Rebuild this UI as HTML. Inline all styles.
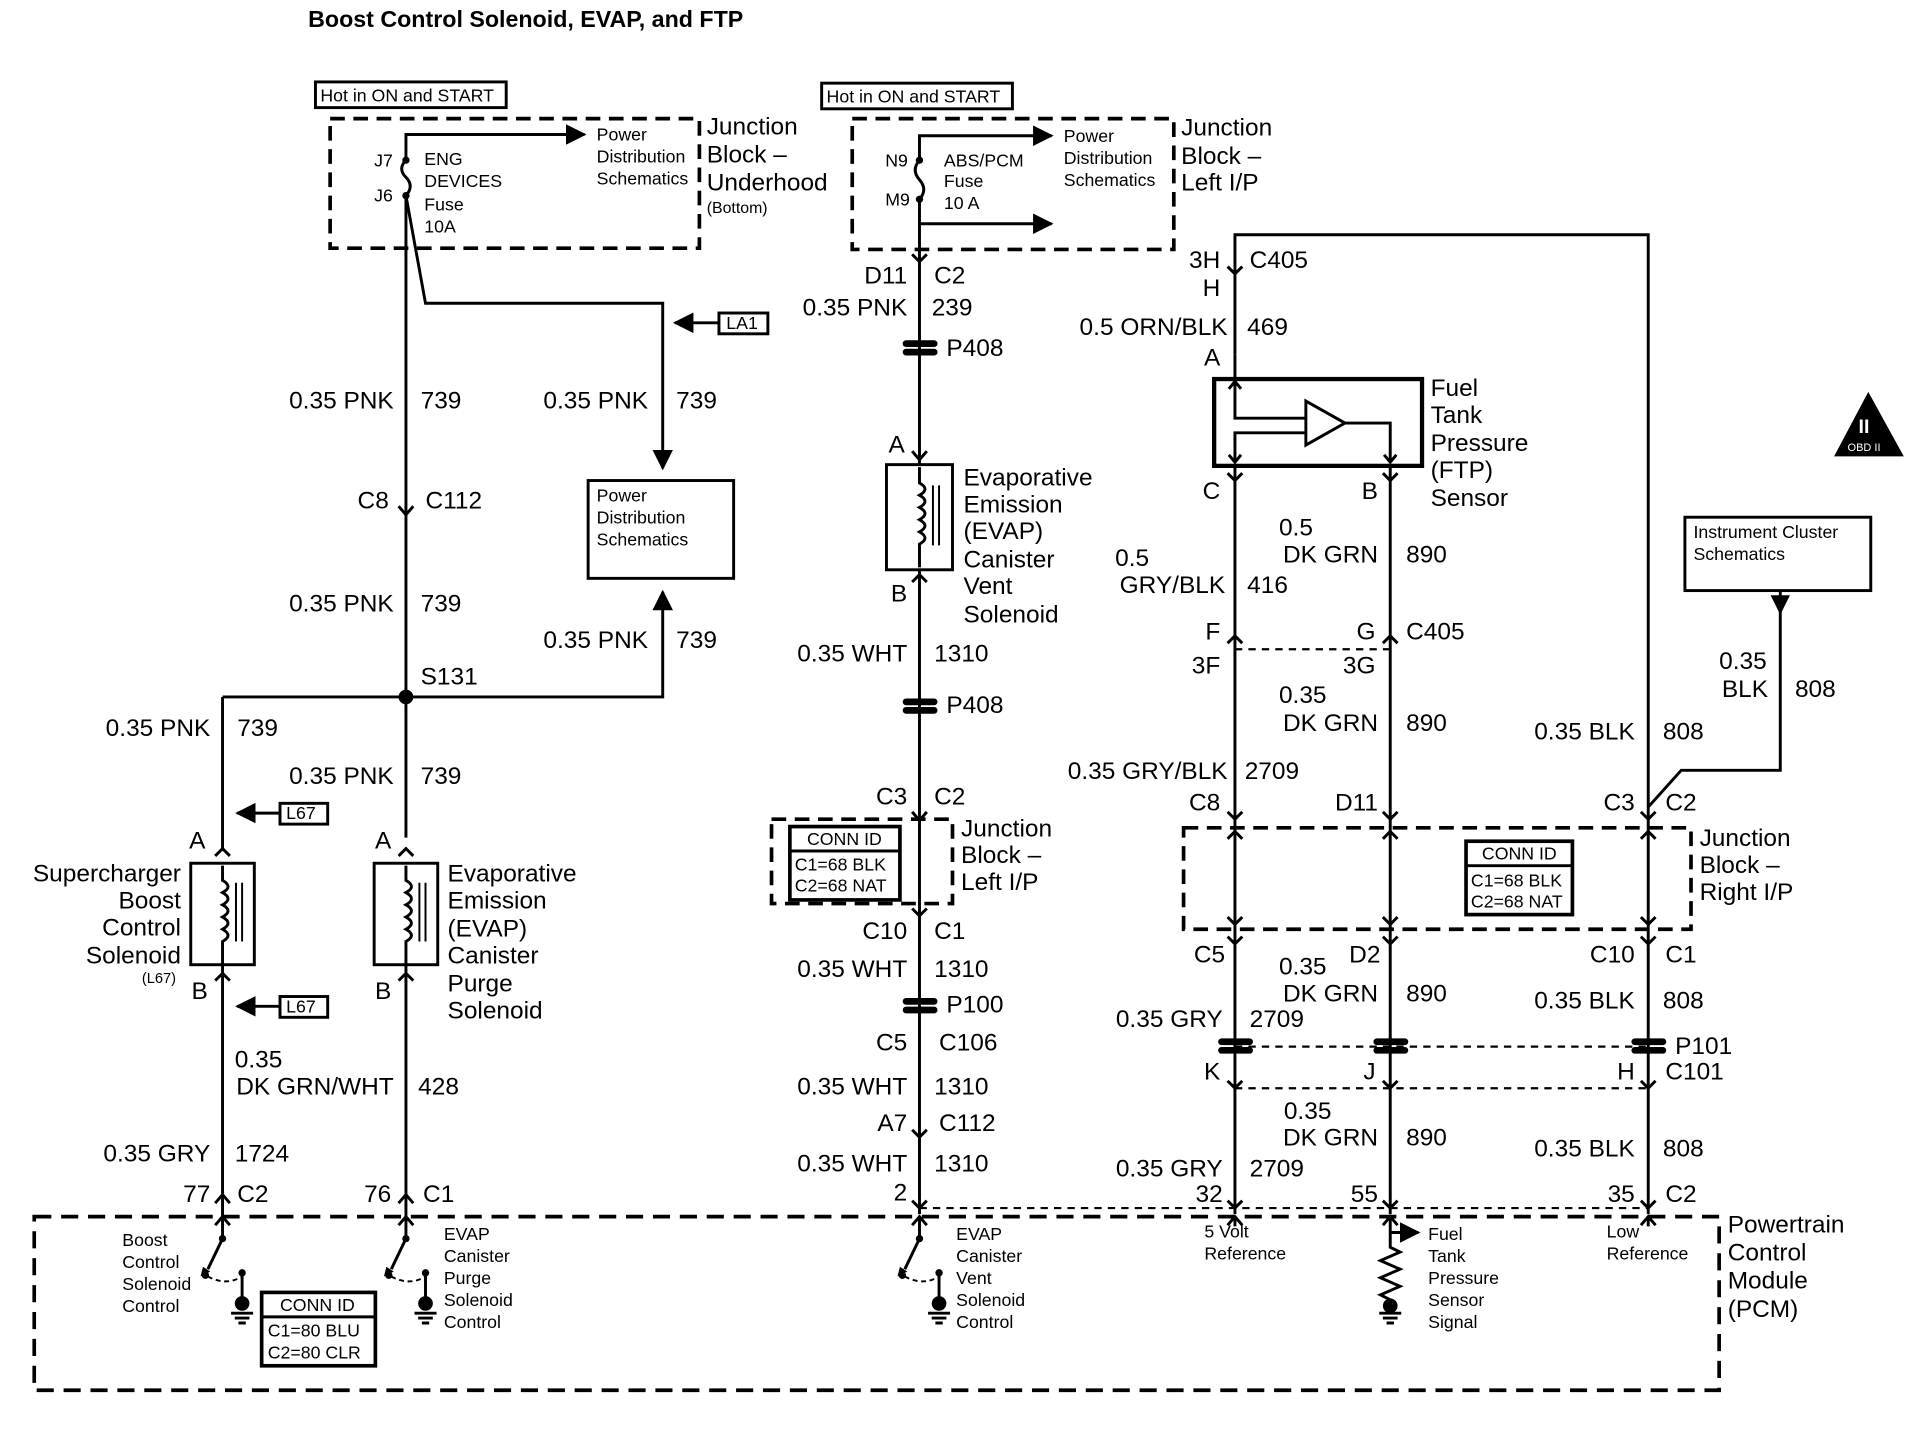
<!DOCTYPE html>
<html><head><meta charset="utf-8"><style>
html,body{margin:0;padding:0;background:#fff}
svg{display:block}
text{font-family:"Liberation Sans",sans-serif;fill:#000}
.w{font-size:20px}
.s{font-size:14.5px}
.m{font-size:20px}
</style></head><body>
<svg width="1916" height="1440" viewBox="0 0 1567 1177.7" preserveAspectRatio="none" xmlns="http://www.w3.org/2000/svg">
<defs>
<marker id="ah" viewBox="0 0 10 10" refX="9" refY="5" markerWidth="7" markerHeight="7" orient="auto"><path d="M0 0 L10 5 L0 10 z" fill="#000"/></marker>
</defs>
<g stroke="#000" stroke-width="2.4" fill="none">
<rect x="258" y="67" width="156" height="21"/>
<rect x="270" y="97" width="302" height="106" stroke-dasharray="12,7" stroke-width="3"/>
<path d="M332 131 V110 H478" marker-end="url(#ah)"/>
<path d="M332 131 q-7 7 0 14 q7 7 0 15"/>
<path d="M332 160 L348 248 H542 V383" marker-end="url(#ah)"/>
<path d="M588 264 H552" marker-end="url(#ah)"/>
<rect x="588" y="256" width="40" height="17"/>
<path d="M332 160 V570 M332 570 V685"/>
<path d="M326 414 L332 421 L338 414"/>
<rect x="481" y="393" width="119" height="80"/>
<path d="M182 570 H542 V484" marker-end="url(#ah)"/>
<path d="M182 570 V694"/>
<path d="M229 665 H194" marker-end="url(#ah)"/>
<rect x="229" y="657" width="39" height="17"/>
<path d="M229 823 H194" marker-end="url(#ah)"/>
<rect x="229" y="815" width="39" height="17"/>
<rect x="156" y="706" width="52" height="83"/>
<rect x="306" y="706" width="52" height="83"/>
<path d="M182 786 V995 M332 786 V995"/>
<path d="M176 700 L182 694 L188 700 M176 802 L182 796 L188 802 M326 700 L332 694 L338 700 M326 802 L332 796 L338 802"/>
<path d="M176 984 L182 977 L188 984 M326 984 L332 977 L338 984"/>
<path d="M182 708 V720 q9 5 0 10 q9 5 0 10 q9 5 0 10 q9 5 0 10 q9 5 0 10 V786"/>
<path d="M332 708 V720 q9 5 0 10 q9 5 0 10 q9 5 0 10 q9 5 0 10 q9 5 0 10 V786"/>
<path d="M193 722 V770 M198 722 V770 M343 722 V770 M348 722 V770" stroke-width="1.6"/>
<rect x="672" y="68" width="156" height="21"/>
<rect x="697" y="97" width="263" height="107" stroke-dasharray="12,7" stroke-width="3"/>
<path d="M752 131 V111 H860" marker-end="url(#ah)"/>
<path d="M752 131 q-7 8 0 16 q7 8 0 16"/>
<path d="M752 163 V183 H860" marker-end="url(#ah)"/>
<path d="M752 183 V993"/>
<path d="M746 208 L752 214 L758 208 M746 369 L752 376 L758 369 M746 476 L752 470 L758 476 M746 664 L752 671 L758 664 M746 743 L752 749 L758 743 M746 924 L752 930 L758 924"/>
<rect x="725" y="380" width="54" height="86" fill="#fff"/>
<path d="M752 382 V395 q9 5 0 10 q9 5 0 10 q9 5 0 10 q9 5 0 10 q9 5 0 10 V464"/>
<path d="M763 397 V446 M768 397 V446" stroke-width="1.6"/>
<rect x="631" y="670" width="148" height="69" stroke-dasharray="12,7" stroke-width="3"/>
<rect x="646" y="676" width="90" height="60" fill="#fff" stroke-width="3"/>
<path d="M646 696 H736"/>
<path d="M1010 290 V192 H1348 V993"/>
<path d="M1004 218 L1010 224 L1016 218"/>
<rect x="993" y="310" width="170" height="71" stroke-width="3.5"/>
<path d="M1010 311 V342 H1068 M1068 328 L1100 346 L1068 364 Z M1100 346 H1137 V378 M1068 354 H1010 V378"/>
<path d="M1005 318 L1010 312 L1015 318 M1005 372 L1010 378 L1015 372 M1132 372 L1137 378 L1142 372"/>
<path d="M1010 290 V310 M1010 381 V993 M1137 381 V993"/>
<path d="M1004 387 L1010 393 L1016 387 M1131 387 L1137 393 L1143 387"/>
<path d="M1004 526 L1010 520 L1016 526 M1131 526 L1137 520 L1143 526"/>
<path d="M1010 531 H1137" stroke-dasharray="6,5" stroke-width="1.8"/>
<rect x="968" y="677" width="415" height="83" stroke-dasharray="12,7" stroke-width="3"/>
<rect x="1199" y="688" width="87" height="60" fill="#fff" stroke-width="3"/>
<path d="M1199 708 H1286"/>
<rect x="1378" y="423" width="152" height="60"/>
<path d="M1456 483 V630 H1375 L1348 660"/>
<path d="M1450 488 L1456 500 L1462 488 Z" fill="#000"/>
<path d="M1004 686 L1010 680 L1016 686 M1131 686 L1137 680 L1143 686 M1342 686 L1348 680 L1354 686"/>
<path d="M1004 750 L1010 756 L1016 750 M1131 750 L1137 756 L1143 750 M1342 750 L1348 756 L1354 750"/>
<path d="M1004 766 L1010 772 L1016 766 M1131 766 L1137 772 L1143 766 M1342 766 L1348 772 L1354 766"/>
<path d="M1004 664 L1010 670 L1016 664 M1131 664 L1137 670 L1143 664 M1342 664 L1348 670 L1354 664"/>
<path d="M1010 856 H1348" stroke-dasharray="6,5" stroke-width="1.8"/>
<path d="M1010 890 H1348" stroke-dasharray="6,5" stroke-width="1.8"/>
<path d="M1004 884 L1010 890 L1016 884 M1131 884 L1137 890 L1143 884 M1342 884 L1348 890 L1354 884"/>
<path d="M1004 982 L1010 988 L1016 982 M1131 982 L1137 988 L1143 982 M1342 982 L1348 988 L1354 982 M746 982 L752 988 L758 982"/>
<path d="M752 988 H1348" stroke-dasharray="6,5" stroke-width="1.8"/>
<rect x="28" y="995" width="1378" height="142" stroke-dasharray="14,8" stroke-width="3"/>
<rect x="214" y="1057" width="93" height="60" fill="#fff" stroke-width="3"/>
<path d="M214 1077 H307"/>
<path d="M176 1002 L182 995 L188 1002 M326 1002 L332 995 L338 1002 M746 1002 L752 995 L758 1002 M1004 1002 L1010 995 L1016 1002 M1131 1002 L1137 995 L1143 1002 M1342 1002 L1348 995 L1354 1002"/>
<path d="M182 995 V1013 L170 1038"/>
<path d="M332 995 V1013 L320 1038"/>
<path d="M752 995 V1013 L740 1038"/>
<path d="M170 1044 q15 8 28 0 M320 1044 q15 8 28 0 M740 1044 q15 8 28 0" stroke-dasharray="4,3" stroke-width="1.6"/>
<path d="M198 1042 V1066 M348 1042 V1066 M768 1042 V1066"/>
<path d="M189 1074 H207 M192 1078 H204 M195 1082 H201 M339 1074 H357 M342 1078 H354 M345 1082 H351 M759 1074 H777 M762 1078 H774 M765 1082 H771 M1128 1074 H1146 M1131 1078 H1143 M1134 1082 H1140"/>
<path d="M1137 995 V1020 l8 4 -16 7 16 7 -16 7 16 7 -16 7 8 4 V1068"/>
<path d="M1137 1008 H1160" marker-end="url(#ah)"/>
<path d="M1010 995 V1003 M1348 995 V1003"/>
<path d="M1528 323 L1555 372 H1502 Z" fill="#000"/>
</g>
<g fill="#000">
<circle cx="332" cy="131" r="3"/><circle cx="332" cy="160" r="3"/>
<circle cx="752" cy="131" r="3"/><circle cx="752" cy="163" r="3"/>
<circle cx="332" cy="570" r="6"/>
<circle cx="182" cy="1013" r="3"/><circle cx="168" cy="1043" r="3"/><circle cx="198" cy="1041" r="3"/><circle cx="198" cy="1066" r="6"/>
<circle cx="332" cy="1013" r="3"/><circle cx="318" cy="1043" r="3"/><circle cx="348" cy="1041" r="3"/><circle cx="348" cy="1066" r="6"/>
<circle cx="752" cy="1013" r="3"/><circle cx="738" cy="1043" r="3"/><circle cx="768" cy="1041" r="3"/><circle cx="768" cy="1066" r="6"/>
<circle cx="1137" cy="1068" r="6"/>
<path d="M166 1036 l-2 8 8 -4 z M316 1036 l-2 8 8 -4 z M736 1036 l-2 8 8 -4 z"/>
<g stroke="#000" stroke-width="1.5">
<rect x="739" y="279" width="27" height="4" rx="2"/><rect x="739" y="286" width="27" height="4" rx="2"/>
<rect x="739" y="572" width="27" height="4" rx="2"/><rect x="739" y="579" width="27" height="4" rx="2"/>
<rect x="739" y="817" width="27" height="4" rx="2"/><rect x="739" y="824" width="27" height="4" rx="2"/>
<rect x="997" y="850" width="27" height="4" rx="2"/><rect x="997" y="857" width="27" height="4" rx="2"/>
<rect x="1124" y="850" width="27" height="4" rx="2"/><rect x="1124" y="857" width="27" height="4" rx="2"/>
<rect x="1335" y="850" width="27" height="4" rx="2"/><rect x="1335" y="857" width="27" height="4" rx="2"/>
</g>
</g>
<text x="252" y="22" style="font-size:19px;font-weight:bold">Boost Control Solenoid, EVAP, and FTP</text>
<g class="s">
<text x="262" y="83">Hot in ON and START</text>
<text x="676" y="84">Hot in ON and START</text>
<text x="488" y="115">Power</text><text x="488" y="133">Distribution</text><text x="488" y="151">Schematics</text>
<text x="347" y="135">ENG</text><text x="347" y="153">DEVICES</text><text x="347" y="172">Fuse</text><text x="347" y="190">10A</text>
<text x="306" y="136">J7</text><text x="306" y="165">J6</text>
<text x="578" y="174" style="font-size:13px">(Bottom)</text>
<text x="594" y="269">LA1</text>
<text x="488" y="410">Power</text><text x="488" y="428">Distribution</text><text x="488" y="446">Schematics</text>
<text x="234" y="670">L67</text><text x="234" y="828">L67</text>
<text x="116" y="804" style="font-size:12px">(L67)</text>
<text x="724" y="136">N9</text><text x="724" y="168">M9</text>
<text x="772" y="136">ABS/PCM</text><text x="772" y="153">Fuse</text><text x="772" y="171">10 A</text>
<text x="870" y="116">Power</text><text x="870" y="134">Distribution</text><text x="870" y="152">Schematics</text>
<text x="660" y="691">CONN ID</text><text x="650" y="712">C1=68 BLK</text><text x="650" y="729">C2=68 NAT</text>
<text x="1212" y="703">CONN ID</text><text x="1203" y="725">C1=68 BLK</text><text x="1203" y="742">C2=68 NAT</text>
<text x="1385" y="440">Instrument Cluster</text><text x="1385" y="458">Schematics</text>
<text x="100" y="1019">Boost</text><text x="100" y="1037">Control</text><text x="100" y="1055">Solenoid</text><text x="100" y="1073">Control</text>
<text x="363" y="1014">EVAP</text><text x="363" y="1032">Canister</text><text x="363" y="1050">Purge</text><text x="363" y="1068">Solenoid</text><text x="363" y="1086">Control</text>
<text x="782" y="1014">EVAP</text><text x="782" y="1032">Canister</text><text x="782" y="1050">Vent</text><text x="782" y="1068">Solenoid</text><text x="782" y="1086">Control</text>
<text x="985" y="1012">5 Volt</text><text x="985" y="1030">Reference</text>
<text x="1168" y="1014">Fuel</text><text x="1168" y="1032">Tank</text><text x="1168" y="1050">Pressure</text><text x="1168" y="1068">Sensor</text><text x="1168" y="1086">Signal</text>
<text x="1314" y="1012">Low</text><text x="1314" y="1030">Reference</text>
<text x="229" y="1072">CONN ID</text><text x="219" y="1093">C1=80 BLU</text><text x="219" y="1111">C2=80 CLR</text>
<text x="1520" y="354" style="font-size:16px;fill:#fff;font-weight:bold">II</text>
<text x="1511" y="369" style="font-size:9px;fill:#fff">OBD II</text>
</g>
<g class="w">
<text x="578" y="110">Junction</text><text x="578" y="133">Block –</text><text x="578" y="156">Underhood</text>
<text x="966" y="111">Junction</text><text x="966" y="134">Block –</text><text x="966" y="156">Left I/P</text>
<g text-anchor="end">
<text x="322" y="334">0.35 PNK</text><text x="530" y="334">0.35 PNK</text>
<text x="318" y="416">C8</text>
<text x="322" y="500">0.35 PNK</text><text x="530" y="530">0.35 PNK</text>
<text x="172" y="602">0.35 PNK</text><text x="322" y="641">0.35 PNK</text>
<text x="168" y="694">A</text><text x="320" y="694">A</text>
<text x="148" y="721">Supercharger</text><text x="148" y="743">Boost</text><text x="148" y="765">Control</text><text x="148" y="788">Solenoid</text>
<text x="170" y="817">B</text><text x="320" y="817">B</text>
<text x="322" y="895">DK GRN/WHT</text>
<text x="172" y="950">0.35 GRY</text>
<text x="172" y="983">77</text><text x="320" y="983">76</text>
<text x="742" y="232">D11</text><text x="742" y="258">0.35 PNK</text>
<text x="740" y="370">A</text><text x="742" y="492">B</text>
<text x="742" y="541">0.35 WHT</text><text x="742" y="658">C3</text>
<text x="742" y="768">C10</text><text x="742" y="799">0.35 WHT</text>
<text x="742" y="859">C5</text><text x="742" y="895">0.35 WHT</text>
<text x="742" y="925">A7</text><text x="742" y="958">0.35 WHT</text>
<text x="742" y="982">2</text>
<text x="998" y="219">3H</text><text x="998" y="242">H</text>
<text x="1004" y="274">0.5 ORN/BLK</text><text x="998" y="299">A</text>
<text x="998" y="408">C</text><text x="1127" y="408">B</text>
<text x="1002" y="485">GRY/BLK</text>
<text x="1127" y="460">DK GRN</text>
<text x="998" y="523">F</text><text x="998" y="551">3F</text>
<text x="1125" y="523">G</text><text x="1125" y="551">3G</text>
<text x="1127" y="598">DK GRN</text>
<text x="1004" y="637">0.35 GRY/BLK</text>
<text x="998" y="663">C8</text><text x="1127" y="663">D11</text><text x="1337" y="663">C3</text>
<text x="1337" y="605">0.35 BLK</text>
<text x="1002" y="787">C5</text><text x="1129" y="787">D2</text><text x="1337" y="787">C10</text>
<text x="1127" y="819">DK GRN</text><text x="1000" y="840">0.35 GRY</text>
<text x="1337" y="825">0.35 BLK</text>
<text x="998" y="883">K</text><text x="1125" y="883">J</text><text x="1337" y="883">H</text>
<text x="1127" y="937">DK GRN</text><text x="1000" y="962">0.35 GRY</text>
<text x="1337" y="946">0.35 BLK</text>
<text x="1000" y="983">32</text><text x="1127" y="983">55</text><text x="1337" y="983">35</text>
<text x="1446" y="570">BLK</text>
</g>
<text x="344" y="334">739</text><text x="553" y="334">739</text>
<text x="348" y="416">C112</text>
<text x="344" y="500">739</text><text x="553" y="530">739</text>
<text x="344" y="560">S131</text>
<text x="194" y="602">739</text><text x="344" y="641">739</text>
<text x="366" y="721">Evaporative</text><text x="366" y="743">Emission</text><text x="366" y="766">(EVAP)</text><text x="366" y="788">Canister</text><text x="366" y="811">Purge</text><text x="366" y="833">Solenoid</text>
<text x="192" y="873">0.35</text><text x="342" y="895">428</text>
<text x="192" y="950">1724</text>
<text x="194" y="983">C2</text><text x="346" y="983">C1</text>
<text x="764" y="232">C2</text><text x="762" y="258">239</text>
<text x="774" y="291">P408</text>
<text x="788" y="397">Evaporative</text><text x="788" y="419">Emission</text><text x="788" y="441">(EVAP)</text><text x="788" y="464">Canister</text><text x="788" y="486">Vent</text><text x="788" y="509">Solenoid</text>
<text x="764" y="541">1310</text><text x="774" y="583">P408</text><text x="764" y="658">C2</text>
<text x="786" y="684">Junction</text><text x="786" y="706">Block –</text><text x="786" y="728">Left I/P</text>
<text x="764" y="768">C1</text><text x="764" y="799">1310</text><text x="774" y="828">P100</text>
<text x="768" y="859">C106</text><text x="764" y="895">1310</text><text x="768" y="925">C112</text><text x="764" y="958">1310</text>
<text x="1022" y="219">C405</text><text x="1020" y="274">469</text>
<text x="1170" y="324">Fuel</text><text x="1170" y="346">Tank</text><text x="1170" y="369">Pressure</text><text x="1170" y="391">(FTP)</text><text x="1170" y="414">Sensor</text>
<text x="912" y="463">0.5</text><text x="1020" y="485">416</text>
<text x="1046" y="438">0.5</text><text x="1150" y="460">890</text>
<text x="1150" y="523">C405</text>
<text x="1046" y="575">0.35</text><text x="1150" y="598">890</text>
<text x="1018" y="637">2709</text>
<text x="1362" y="663">C2</text><text x="1360" y="605">808</text>
<text x="1406" y="547">0.35</text><text x="1468" y="570">808</text>
<text x="1390" y="692">Junction</text><text x="1390" y="714">Block –</text><text x="1390" y="736">Right I/P</text>
<text x="1362" y="787">C1</text>
<text x="1046" y="797">0.35</text><text x="1150" y="819">890</text><text x="1022" y="840">2709</text>
<text x="1360" y="825">808</text><text x="1370" y="862">P101</text>
<text x="1362" y="883">C101</text>
<text x="1050" y="915">0.35</text><text x="1150" y="937">890</text><text x="1022" y="962">2709</text>
<text x="1360" y="946">808</text>
<text x="1362" y="983">C2</text>
<text x="1413" y="1008">Powertrain</text><text x="1413" y="1031">Control</text><text x="1413" y="1054">Module</text><text x="1413" y="1077">(PCM)</text>
</g>
</svg>
</body></html>
